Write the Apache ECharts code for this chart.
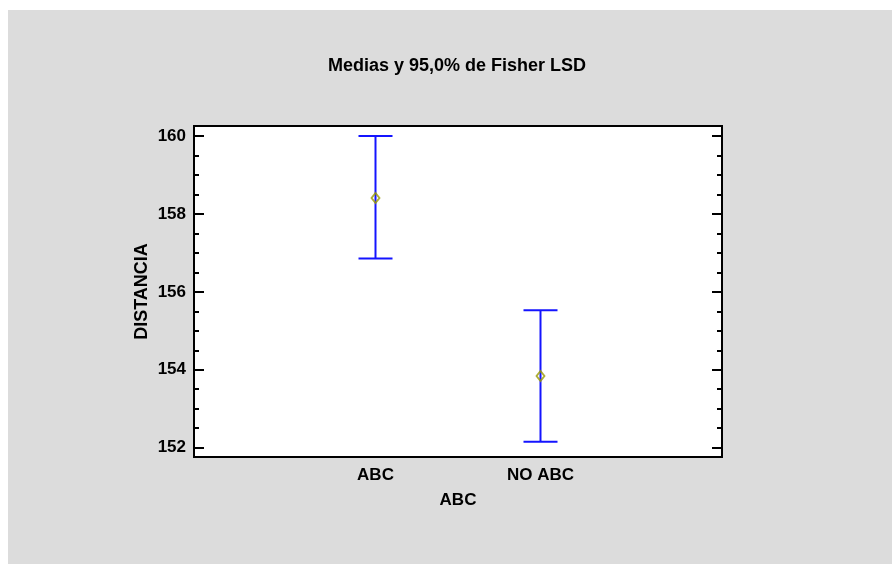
<!DOCTYPE html>
<html>
<head>
<meta charset="utf-8">
<script src="https://cdn.jsdelivr.net/npm/echarts@6/dist/echarts.min.js"></script>
<style>html,body{margin:0;padding:0;background:#fff;}#c{width:892px;height:564px;}</style>
</head>
<body>
<div id="c"></div>
<script>
var categories = ['ABC', 'NO ABC'];
var catPos = [1, 2];
var means = [158.41, 153.84];
var lower = [156.86, 152.15];
var upper = [160.0, 155.53];
var yTickLabels = [152, 154, 156, 158, 160];
var yMinorTicks = [152, 152.5, 153, 153.5, 154, 154.5, 155, 155.5, 156, 156.5, 157, 157.5, 158, 158.5, 159, 159.5, 160];

var FONT = '"Liberation Sans", Arial, sans-serif';
var chart = echarts.init(document.getElementById('c'), null, {renderer: 'canvas'});

var errData = catPos.map(function (x, i) { return [x, lower[i], upper[i]]; });
var meanData = catPos.map(function (x, i) { return [x, means[i]]; });

function yAxisDef(pos, len, ticks, showLabel) {
  return {
    type: 'value', position: pos, offset: 0, min: 151.76, max: 160.26,
    axisLine: {show: true, onZero: false, lineStyle: {color: '#000', width: 2}},
    axisTick: {show: true, inside: true, length: len, customValues: ticks, lineStyle: {color: '#000', width: 2}},
    axisLabel: {show: showLabel, customValues: yTickLabels, color: '#000', fontFamily: FONT, fontWeight: 'bold', fontSize: 17, margin: 8},
    splitLine: {show: false}
  };
}

var yAxes = [
  yAxisDef('left', 10, yTickLabels, true),
  yAxisDef('left', 5, yMinorTicks, false),
  yAxisDef('right', 10, yTickLabels, false),
  yAxisDef('right', 5, yMinorTicks, false)
];
yAxes[0].name = 'DISTANCIA';
yAxes[0].nameLocation = 'middle';
yAxes[0].nameGap = 43;
yAxes[0].nameMoveOverlap = false;
yAxes[0].nameTextStyle = {color: '#000', fontFamily: FONT, fontWeight: 'bold', fontSize: 18};

chart.setOption({
  animation: false,
  backgroundColor: '#ffffff',
  graphic: [{type: 'rect', z: -10, shape: {x: 8, y: 10, width: 884, height: 554}, style: {fill: '#dcdcdc'}}],
  title: {
    text: 'Medias y 95,0% de Fisher LSD', left: 452, top: 52, textAlign: 'center',
    textStyle: {color: '#000', fontFamily: FONT, fontWeight: 'bold', fontSize: 18}
  },
  grid: {left: 194, top: 126, right: 170, bottom: 107, show: true, backgroundColor: '#fff', borderWidth: 0},
  xAxis: [{
    type: 'value', min: -0.1, max: 3.1,
    name: 'ABC', nameLocation: 'middle', nameGap: 35,
    nameTextStyle: {color: '#000', fontFamily: FONT, fontWeight: 'bold', fontSize: 17},
    axisLine: {show: true, onZero: false, lineStyle: {color: '#000', width: 2}},
    axisTick: {show: false},
    axisLabel: {customValues: catPos, color: '#000', fontFamily: FONT, fontWeight: 'bold', fontSize: 17, margin: 10,
      formatter: function (v) { var i = catPos.indexOf(v); return i >= 0 ? categories[i] : ''; }},
    splitLine: {show: false}
  }, {
    type: 'value', position: 'top', offset: 0, min: -0.1, max: 3.1,
    axisLine: {show: true, onZero: false, lineStyle: {color: '#000', width: 2}},
    axisTick: {show: false}, axisLabel: {show: false}, splitLine: {show: false}
  }],
  yAxis: yAxes,
  series: [{
    type: 'custom', xAxisIndex: 0, yAxisIndex: 0,
    data: errData,
    renderItem: function (params, api) {
      var x = api.value(0);
      var lo = api.coord([x, api.value(1)]);
      var hi = api.coord([x, api.value(2)]);
      var hw = 17;
      var st = {stroke: '#1414ff', lineWidth: 2};
      return {type: 'group', children: [
        {type: 'line', shape: {x1: lo[0], y1: lo[1], x2: hi[0], y2: hi[1]}, style: st},
        {type: 'line', shape: {x1: lo[0] - hw, y1: lo[1], x2: lo[0] + hw, y2: lo[1]}, style: st},
        {type: 'line', shape: {x1: hi[0] - hw, y1: hi[1], x2: hi[0] + hw, y2: hi[1]}, style: st}
      ]};
    }
  }, {
    type: 'scatter', xAxisIndex: 0, yAxisIndex: 0,
    data: meanData, symbol: 'diamond', symbolSize: [8, 10],
    itemStyle: {color: 'rgba(0,0,0,0)', borderColor: '#999900', borderWidth: 1.8}
  }]
});
</script>
</body>
</html>
